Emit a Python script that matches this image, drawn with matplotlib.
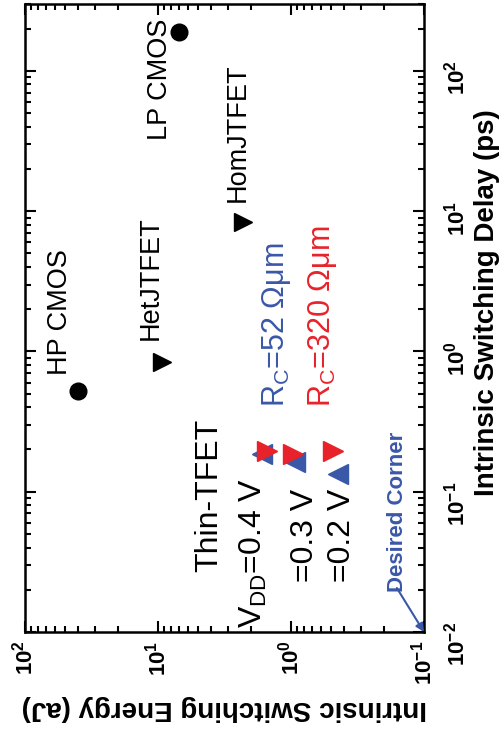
import matplotlib
matplotlib.use('Agg')
import matplotlib.pyplot as plt
from matplotlib import font_manager
from matplotlib.ticker import NullFormatter

# --- Données (énergie en aJ, délai en ps) ---
# La figure d'origine est tournée de 90° : énergie à l'horizontale (inversée), délai à la verticale
cmos_names = ['LP CMOS', 'HP CMOS']
cmos_energy = [7.0, 40.0]
cmos_delay = [190.0, 0.52]

jtfet_names = ['HomJTFET', 'HetJTFET']
jtfet_energy = [2.3, 9.3]
jtfet_delay = [8.4, 0.84]

vdd_labels = [r'V$_\mathregular{DD}$=0.4 V', '=0.3 V', '=0.2 V']
thin_energy_52 = [1.66, 0.93, 0.44]
thin_delay_52 = [0.186, 0.163, 0.134]
thin_energy_320 = [1.51, 0.97, 0.48]
thin_delay_320 = [0.195, 0.186, 0.195]

rc_labels = [r'R$_\mathregular{C}$=52 Ωμm', r'R$_\mathregular{C}$=320 Ωμm']

energy_lim = [100, 0.1]
delay_lim = [0.01, 300]
energy_ticks = [1e2, 1e1, 1e0, 1e-1]
energy_tick_labels = [r'$\mathregular{10^{2}}$', r'$\mathregular{10^{1}}$',
                      r'$\mathregular{10^{0}}$', r'$\mathregular{10^{-1}}$']
delay_ticks = [1e-2, 1e-1, 1e0, 1e1, 1e2]
delay_tick_labels = [r'$\mathregular{10^{-2}}$', r'$\mathregular{10^{-1}}$',
                     r'$\mathregular{10^{0}}$', r'$\mathregular{10^{1}}$',
                     r'$\mathregular{10^{2}}$']

BLUE = '#3a58a8'
RED = '#e8222a'

# police étroite pour les noms des dispositifs si disponible
names = {f.name for f in font_manager.fontManager.ttflist}
if 'Liberation Sans Narrow' in names:
    narrow, narrow_size = 'Liberation Sans Narrow', 24.5
else:
    narrow, narrow_size = 'Liberation Sans', 19.5

plt.rcParams['font.family'] = ['Liberation Sans', 'DejaVu Sans']
plt.rcParams['mathtext.fontset'] = 'custom'
plt.rcParams['mathtext.rm'] = 'Liberation Sans'
plt.rcParams['mathtext.bf'] = 'Liberation Sans:bold'

fig = plt.figure(figsize=(5.01, 7.34), dpi=100)
ax = fig.add_axes([0.0499, 0.1390, 0.7964, 0.8556])
ax.set_xscale('log')
ax.set_yscale('log')
ax.set_xlim(energy_lim)
ax.set_ylim(delay_lim)

# points
ax.plot(cmos_energy, cmos_delay, 'o', color='black', ms=12, ls='none')
ax.plot(jtfet_energy, jtfet_delay, '>', color='black', ms=13, ls='none')
ax.plot(thin_energy_52, thin_delay_52, '<', color=BLUE, ms=14, ls='none')
ax.plot(thin_energy_320, thin_delay_320, '>', color=RED, ms=14, ls='none')


def label(fx, fy, s, **kw):
    # texte tourné, ancré au début de la ligne de base
    ax.text(fx, fy, s, transform=ax.transAxes, rotation=90, rotation_mode='anchor',
            ha='left', va='baseline', **kw)


# noms des dispositifs
dev_pos = [(0.356, 0.783), (0.105, 0.409)]
for (fx, fy), s in zip(dev_pos, cmos_names):
    label(fx, fy, s, family=narrow, fontsize=narrow_size)
jt_pos = [(0.551, 0.685), (0.333, 0.465)]
for (fx, fy), s in zip(jt_pos, jtfet_names):
    label(fx, fy, s, family=narrow, fontsize=narrow_size)

# légende Thin-TFET
label(0.481, 0.0955, 'Thin-TFET', fontsize=23)
vdd_pos = [(0.594, 0.006), (0.722, 0.080), (0.815, 0.080)]
for (fx, fy), s in zip(vdd_pos, vdd_labels):
    label(fx, fy, s, fontsize=23)
label(0.649, 0.358, rc_labels[0], fontsize=22, color=BLUE)
label(0.764, 0.358, rc_labels[1], fontsize=22, color=RED)

# coin désiré
label(0.947, 0.064, 'Desired Corner', fontsize=16, fontweight='bold', color=BLUE)
ax.annotate('', xy=(1.0, 0.0), xytext=(0.932, 0.07), xycoords='axes fraction',
            arrowprops=dict(arrowstyle='-|>', color=BLUE, lw=1.5, mutation_scale=12,
                            shrinkA=0, shrinkB=0))

# axes et graduations
ax.set_xticks(energy_ticks, labels=energy_tick_labels, fontweight='bold', fontsize=16)
ax.set_yticks(delay_ticks, labels=delay_tick_labels, fontweight='bold', fontsize=16)
ax.xaxis.set_minor_formatter(NullFormatter())
ax.yaxis.set_minor_formatter(NullFormatter())
ax.tick_params(which='both', direction='in', top=True, right=True, width=1.5)
ax.tick_params(which='major', length=8)
ax.tick_params(which='minor', length=4)
ax.tick_params(axis='y', labelleft=False, labelright=True, labelrotation=90, pad=14)
ax.tick_params(axis='x', labelrotation=90, pad=6)
for sp in ax.spines.values():
    sp.set_linewidth(1.8)

ax.set_xlabel('Intrinsic Switching Energy (aJ)', fontsize=20, fontweight='bold', rotation=180)
ax.xaxis.set_label_coords(0.5, -0.121)
ax.xaxis.label.set_va('center')

ax.set_ylabel('Intrinsic Switching Delay (ps)', fontsize=20, fontweight='bold')
ax.yaxis.set_label_position('right')
ax.yaxis.label.set_rotation(90)
ax.yaxis.label.set_rotation_mode('default')
ax.yaxis.label.set_va('center')
ax.yaxis.label.set_ha('center')
ax.yaxis.set_label_coords(1.158, 0.525)

fig.savefig('out.png', dpi=100)
